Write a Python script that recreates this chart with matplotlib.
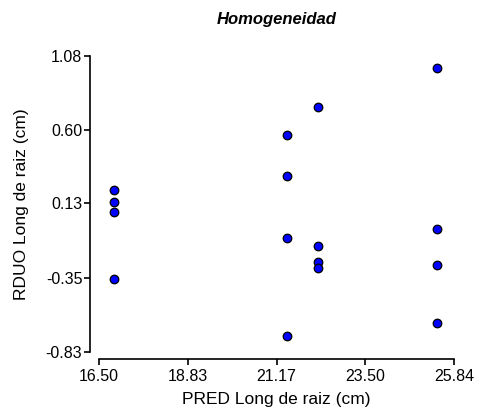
import matplotlib
matplotlib.use("Agg")
import matplotlib.pyplot as plt

plt.rcParams['font.family'] = ['Liberation Sans', 'DejaVu Sans']

pred = [16.89, 16.89, 16.89, 16.89,
        21.45, 21.45, 21.45, 21.45,
        22.27, 22.27, 22.27, 22.27,
        25.39, 25.39, 25.39, 25.39]
rduo = [0.214, 0.138, 0.073, -0.359,
        0.572, 0.306, -0.092, -0.726,
        0.749, -0.146, -0.247, -0.286,
        1.005, -0.034, -0.266, -0.645]
xticks = [16.50, 18.83, 21.17, 23.50, 25.84]
yticks = [-0.83, -0.35, 0.13, 0.60, 1.08]

W, H = 481, 417
fig = plt.figure(figsize=(W / 100, H / 100), dpi=100)
ax = fig.add_axes([99 / W, (H - 352) / H, (454 - 99) / W, (352 - 56) / H])
ax.scatter(pred, rduo, s=38, c='#0000ff', edgecolors='black', linewidths=0.9,
           zorder=3, clip_on=False)
ax.set_xlim(16.50, 25.84)
ax.set_ylim(-0.83, 1.08)
ax.set_xticks(xticks)
ax.set_xticklabels([f"{v:.2f}" for v in xticks])
ax.set_yticks(yticks)
ax.set_yticklabels([f"{v:.2f}" for v in yticks])
for s in ['top', 'right']:
    ax.spines[s].set_visible(False)
ax.spines['left'].set_position(('outward', 6.5))
ax.spines['bottom'].set_position(('outward', 5))
ax.spines['left'].set_linewidth(1.2)
ax.spines['bottom'].set_linewidth(1.2)
ax.tick_params(direction='out', length=4, width=1.2, labelsize=11.5, pad=1.5, colors='black')
ax.tick_params(axis='x', pad=3)
ax.set_xlabel('PRED Long de raiz (cm)', fontsize=12.5, labelpad=6)
ax.set_ylabel('RDUO Long de raiz (cm)', fontsize=12.5, labelpad=12)
ax.set_title('Homogeneidad', fontsize=12, fontweight='bold', fontstyle='italic', pad=23)
fig.savefig('out.png', dpi=100)
